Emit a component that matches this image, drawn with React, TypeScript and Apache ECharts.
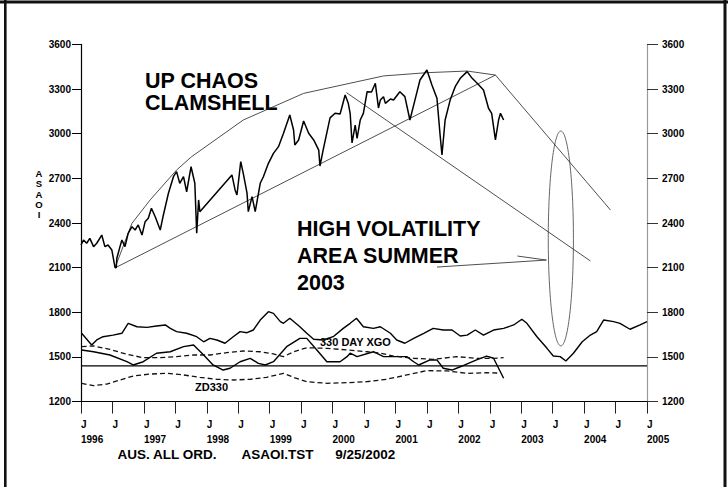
import React, { useEffect, useRef } from "react";
import * as echarts from "echarts";

// ---------- data (x = decimal year, y = index value) ----------
const yTicks = [1200, 1500, 1800, 2100, 2400, 2700, 3000, 3300, 3600];

const price: [number, number][] = [
  [1996.0, 2252], [1996.04, 2286], [1996.09, 2264], [1996.14, 2297], [1996.2, 2241], [1996.25, 2264],
  [1996.33, 2319], [1996.38, 2241], [1996.43, 2252], [1996.49, 2219], [1996.54, 2104], [1996.56, 2098],
  [1996.57, 2163], [1996.62, 2241], [1996.65, 2286], [1996.7, 2241], [1996.75, 2331], [1996.81, 2375],
  [1996.86, 2353], [1996.91, 2387], [1996.97, 2319], [1997.02, 2409], [1997.07, 2432], [1997.12, 2499],
  [1997.18, 2442], [1997.26, 2353], [1997.31, 2454], [1997.39, 2600], [1997.47, 2711], [1997.52, 2745],
  [1997.57, 2667], [1997.63, 2711], [1997.68, 2610], [1997.75, 2778], [1997.81, 2667], [1997.84, 2331],
  [1997.87, 2555], [1997.89, 2476], [1998.4, 2723], [1998.45, 2622], [1998.48, 2588], [1998.54, 2812],
  [1998.58, 2734], [1998.64, 2600], [1998.66, 2476], [1998.72, 2577], [1998.77, 2476], [1998.85, 2667],
  [1998.9, 2711], [1998.98, 2801], [1999.06, 2868], [1999.14, 2913], [1999.22, 3003], [1999.32, 3126],
  [1999.38, 3025], [1999.4, 2924], [1999.46, 2958], [1999.54, 3085], [1999.62, 3003], [1999.7, 2958],
  [1999.78, 2890], [1999.8, 2783], [1999.85, 2890], [1999.96, 3106], [2000.04, 3137], [2000.12, 3132],
  [2000.2, 3260], [2000.25, 3204], [2000.28, 3137], [2000.31, 2938], [2000.36, 3058], [2000.39, 2969],
  [2000.44, 3092], [2000.49, 3137], [2000.55, 3282], [2000.62, 3280], [2000.68, 3339], [2000.73, 3173],
  [2000.76, 3226], [2000.81, 3249], [2000.84, 3204], [2000.92, 3233], [2000.97, 3226], [2001.07, 3282],
  [2001.15, 3249], [2001.23, 3092], [2001.31, 3226], [2001.39, 3361], [2001.5, 3428], [2001.58, 3327],
  [2001.66, 3238], [2001.71, 2991], [2001.74, 2857], [2001.79, 3092], [2001.87, 3226], [2001.95, 3316],
  [2002.03, 3372], [2002.14, 3417], [2002.22, 3372], [2002.3, 3339], [2002.4, 3294], [2002.48, 3171],
  [2002.53, 3137], [2002.59, 2958], [2002.64, 3092], [2002.67, 3137], [2002.72, 3092],
];

const lowerTrend: [number, number][] = [[1996.54, 2098], [2002.59, 3394]];
const upperCurve: [number, number][] = [
  [1996.54, 2098], [1996.81, 2398], [1997.1, 2555], [1997.52, 2756], [1997.76, 2846],
  [1998.58, 3092], [1999.54, 3271], [2000.81, 3388], [2001.5, 3410], [2002.14, 3421], [2002.59, 3394],
];
const downLine1: [number, number][] = [[2000.22, 3276], [2004.1, 2145]];
const downLine2: [number, number][] = [[2002.59, 3394], [2004.42, 2487]];
const arrowLine: [number, number][] = [[2001.66, 2104], [2003.4, 2151]];
const arrowHead: [number, number][] = [[2002.94, 2178], [2003.4, 2151]];
// ellipse: [centerYear, centerValue, halfWidthYears, halfHeightValue]
const volatilityEllipse = [[2003.63, 2296, 0.2, 722]];

const cycleLine: [number, number][] = [
  [1996.01, 1659], [1996.17, 1580], [1996.25, 1614], [1996.35, 1636], [1996.51, 1647], [1996.65, 1659],
  [1996.75, 1726], [1996.89, 1703], [1997.05, 1699], [1997.2, 1708], [1997.34, 1715], [1997.42, 1692],
  [1997.52, 1670], [1997.68, 1659], [1997.84, 1636], [1997.95, 1602], [1998.05, 1625], [1998.16, 1614],
  [1998.29, 1592], [1998.42, 1636], [1998.53, 1670], [1998.64, 1663], [1998.74, 1681], [1998.85, 1748],
  [1998.98, 1804], [1999.06, 1793], [1999.17, 1737], [1999.22, 1726], [1999.32, 1760], [1999.48, 1703],
  [1999.59, 1659], [1999.7, 1619], [1999.85, 1614], [2000.01, 1636], [2000.17, 1692], [2000.28, 1726],
  [2000.38, 1760], [2000.49, 1703], [2000.65, 1692], [2000.76, 1703], [2000.92, 1659], [2001.02, 1614],
  [2001.15, 1592], [2001.29, 1625], [2001.45, 1659], [2001.6, 1692], [2001.76, 1681], [2001.9, 1681],
  [2002.03, 1641], [2002.14, 1647], [2002.27, 1681], [2002.4, 1647], [2002.56, 1681], [2002.72, 1692],
  [2002.88, 1715], [2003.01, 1753], [2003.09, 1726], [2003.25, 1636], [2003.41, 1558], [2003.51, 1506],
  [2003.62, 1502], [2003.71, 1473], [2003.83, 1525], [2003.97, 1602], [2004.1, 1647], [2004.2, 1670],
  [2004.31, 1748], [2004.47, 1737], [2004.57, 1726], [2004.73, 1686], [2004.89, 1715], [2005.0, 1737],
];

const xgo330: [number, number][] = [
  [1996.01, 1547], [1996.2, 1535], [1996.46, 1513], [1996.73, 1468], [1996.83, 1446], [1996.99, 1468],
  [1997.2, 1525], [1997.42, 1535], [1997.63, 1569], [1997.79, 1580], [1997.95, 1513], [1998.1, 1446],
  [1998.26, 1412], [1998.37, 1424], [1998.53, 1468], [1998.69, 1491], [1998.82, 1457], [1998.93, 1446],
  [1999.06, 1468], [1999.27, 1569], [1999.48, 1625], [1999.59, 1625], [1999.75, 1547], [1999.91, 1468],
  [2000.12, 1468], [2000.23, 1502], [2000.28, 1525], [2000.39, 1502], [2000.65, 1535], [2000.81, 1502],
  [2000.97, 1502], [2001.18, 1502], [2001.29, 1468], [2001.37, 1446], [2001.55, 1480], [2001.66, 1480],
  [2001.76, 1424], [2001.9, 1412], [2002.03, 1434], [2002.29, 1480], [2002.45, 1506], [2002.56, 1491],
  [2002.64, 1424], [2002.72, 1357],
];

const dashedUpper: [number, number][] = [
  [1996.01, 1569], [1996.2, 1574], [1996.46, 1551], [1996.73, 1518], [1996.99, 1495], [1997.26, 1495],
  [1997.52, 1502], [1997.79, 1513], [1998.05, 1513], [1998.32, 1529], [1998.58, 1540], [1998.85, 1535],
  [1999.06, 1520], [1999.22, 1502], [1999.38, 1535], [1999.59, 1562], [1999.91, 1558], [2000.23, 1547],
  [2000.55, 1535], [2000.76, 1525], [2000.97, 1506], [2001.29, 1491], [2001.6, 1484], [2001.97, 1502],
  [2002.29, 1491], [2002.56, 1491], [2002.72, 1495],
];

const zd330: [number, number][] = [
  [1996.01, 1323], [1996.2, 1307], [1996.41, 1318], [1996.62, 1345], [1996.83, 1372], [1997.1, 1385],
  [1997.36, 1390], [1997.63, 1379], [1997.89, 1363], [1998.16, 1350], [1998.42, 1345], [1998.69, 1350],
  [1998.95, 1363], [1999.22, 1390], [1999.38, 1363], [1999.59, 1334], [1999.91, 1323], [2000.23, 1327],
  [2000.55, 1334], [2000.86, 1350], [2001.18, 1379], [2001.5, 1408], [2001.82, 1406], [2002.14, 1390],
  [2002.45, 1394], [2002.63, 1392],
];

const baseLevel: [number, number][] = [[1996, 1440], [2005, 1440]];

// ---------- component ----------
const FONT = "'Liberation Sans', Arial, Helvetica, sans-serif";

export default function App() {
  const ref = useRef<HTMLDivElement>(null);

  useEffect(() => {
    if (!ref.current) return;
    const chart = echarts.init(ref.current, undefined, { renderer: "svg" });

    const thin = (name: string, data: [number, number][], extra: any = {}) => ({
      name,
      type: "line",
      data,
      showSymbol: false,
      symbol: "none",
      silent: true,
      xAxisIndex: 0,
      yAxisIndex: 0,
      lineStyle: { color: "#222", width: 0.8, ...extra },
      z: 2,
    });

    const yAxisCommon = {
      type: "value",
      min: yTicks[0],
      max: yTicks[yTicks.length - 1],
      interval: yTicks[1] - yTicks[0],
      splitLine: { show: false },
      axisLabel: {
        color: "#000",
        fontSize: 10,
        fontWeight: "bold",
        fontFamily: FONT,
        showMinLabel: true,
        showMaxLabel: true,
        formatter: (v: number) => String(v),
      },
    };

    chart.setOption({
      animation: false,
      backgroundColor: "#fff",
      grid: { left: 81, right: 81, top: 44.4, bottom: 85.4, containLabel: false },
      xAxis: {
        type: "value",
        min: 1996,
        max: 2005,
        interval: 0.5,
        axisLine: { onZero: false, lineStyle: { color: "#000", width: 1.2 } },
        axisTick: { show: true, length: 12, lineStyle: { color: "#222", width: 1 } },
        splitLine: { show: false },
        axisLabel: {
          showMinLabel: true,
          showMaxLabel: true,
          align: "left",
          margin: 15,
          lineHeight: 15,
          fontSize: 10,
          fontWeight: "bold",
          fontFamily: FONT,
          color: "#000",
          formatter: (v: number) => (Math.abs(v - Math.round(v)) < 1e-6 ? `J\n${Math.round(v)}` : "J"),
        },
      },
      yAxis: [
        {
          ...yAxisCommon,
          position: "left",
          axisLine: { show: true, lineStyle: { color: "#000", width: 1.2 } },
          axisTick: { show: true, length: 9, lineStyle: { color: "#000" } },
          axisLabel: { ...yAxisCommon.axisLabel, margin: 10 },
        },
        {
          ...yAxisCommon,
          position: "right",
          axisLine: { show: true, lineStyle: { color: "#999", width: 1.2 } },
          axisTick: { show: true, length: 11, lineStyle: { color: "#333" } },
          axisLabel: { ...yAxisCommon.axisLabel, margin: 15 },
        },
      ],
      series: [
        {
          name: "ASAOI",
          type: "line",
          data: price,
          showSymbol: false,
          symbol: "none",
          silent: true,
          lineStyle: { color: "#000", width: 1.5 },
          z: 3,
        },
        thin("lowerTrend", lowerTrend),
        thin("upperCurve", upperCurve),
        thin("downLine1", downLine1),
        thin("downLine2", downLine2),
        thin("arrowLine", arrowLine),
        thin("arrowHead", arrowHead),
        {
          name: "ellipse",
          type: "custom",
          data: volatilityEllipse,
          silent: true,
          renderItem: (params: any, api: any) => {
            const c = api.coord([api.value(0), api.value(1)]);
            const s = api.size([api.value(2), api.value(3)]);
            return {
              type: "ellipse",
              shape: { cx: c[0], cy: c[1], rx: s[0], ry: s[1] },
              style: { fill: "none", stroke: "#555", lineWidth: 0.9 },
            };
          },
          z: 2,
        },
        thin("cycle", cycleLine, { color: "#000", width: 1.4 }),
        thin("330 DAY XGO", xgo330, { color: "#000", width: 1.4 }),
        thin("dashUpper", dashedUpper, { color: "#111", width: 1.3, type: [5, 3] }),
        thin("ZD330", zd330, { color: "#111", width: 1.3, type: [5, 3] }),
        thin("base", baseLevel, { color: "#000", width: 1.2 }),
      ],
      graphic: [
        // outer frame
        { type: "line", shape: { x1: 0, y1: 2, x2: 728, y2: 2 }, style: { stroke: "#111", lineWidth: 3 } },
        { type: "line", shape: { x1: 5.3, y1: 0, x2: 5.3, y2: 487 }, style: { stroke: "#111", lineWidth: 2.6 } },
        { type: "line", shape: { x1: 725, y1: 0, x2: 725, y2: 487 }, style: { stroke: "#111", lineWidth: 3 } },
        // y axis title
        {
          type: "text",
          x: 39,
          y: 168.5,
          style: {
            text: "A\nS\nA\nO\nI",
            fill: "#000",
            font: `bold 9.5px ${FONT}`,
            lineHeight: 10.3,
            align: "center",
            verticalAlign: "top",
          },
        },
        {
          type: "text",
          x: 145,
          y: 69.5,
          style: {
            text: "UP CHAOS\nCLAMSHELL",
            fill: "#000",
            font: `bold 21.5px ${FONT}`,
            lineHeight: 22,
            verticalAlign: "top",
          },
        },
        {
          type: "text",
          x: 297,
          y: 215,
          style: {
            text: "HIGH VOLATILITY\nAREA SUMMER\n2003",
            fill: "#000",
            font: `bold 21.5px ${FONT}`,
            lineHeight: 27,
            verticalAlign: "top",
          },
        },
        {
          type: "text",
          x: 320,
          y: 341.5,
          z: 10,
          style: { text: "330 DAY XGO", fill: "#000", font: `bold 11px ${FONT}`, verticalAlign: "middle" },
        },
        {
          type: "text",
          x: 195,
          y: 386.5,
          z: 10,
          style: { text: "ZD330", fill: "#000", font: `bold 11px ${FONT}`, verticalAlign: "middle" },
        },
        {
          type: "text",
          x: 117.5,
          y: 454,
          style: { text: "AUS. ALL ORD.", fill: "#000", font: `bold 13.5px ${FONT}`, verticalAlign: "middle" },
        },
        {
          type: "text",
          x: 241.5,
          y: 454,
          style: { text: "ASAOI.TST", fill: "#000", font: `bold 13.5px ${FONT}`, verticalAlign: "middle" },
        },
        {
          type: "text",
          x: 335.3,
          y: 454,
          style: { text: "9/25/2002", fill: "#000", font: `bold 13.5px ${FONT}`, verticalAlign: "middle" },
        },
      ],
    });

    return () => chart.dispose();
  }, []);

  return (
    <div
      ref={ref}
      style={{ position: "fixed", left: 0, top: 0, width: 728, height: 487, background: "#fff" }}
    />
  );
}
